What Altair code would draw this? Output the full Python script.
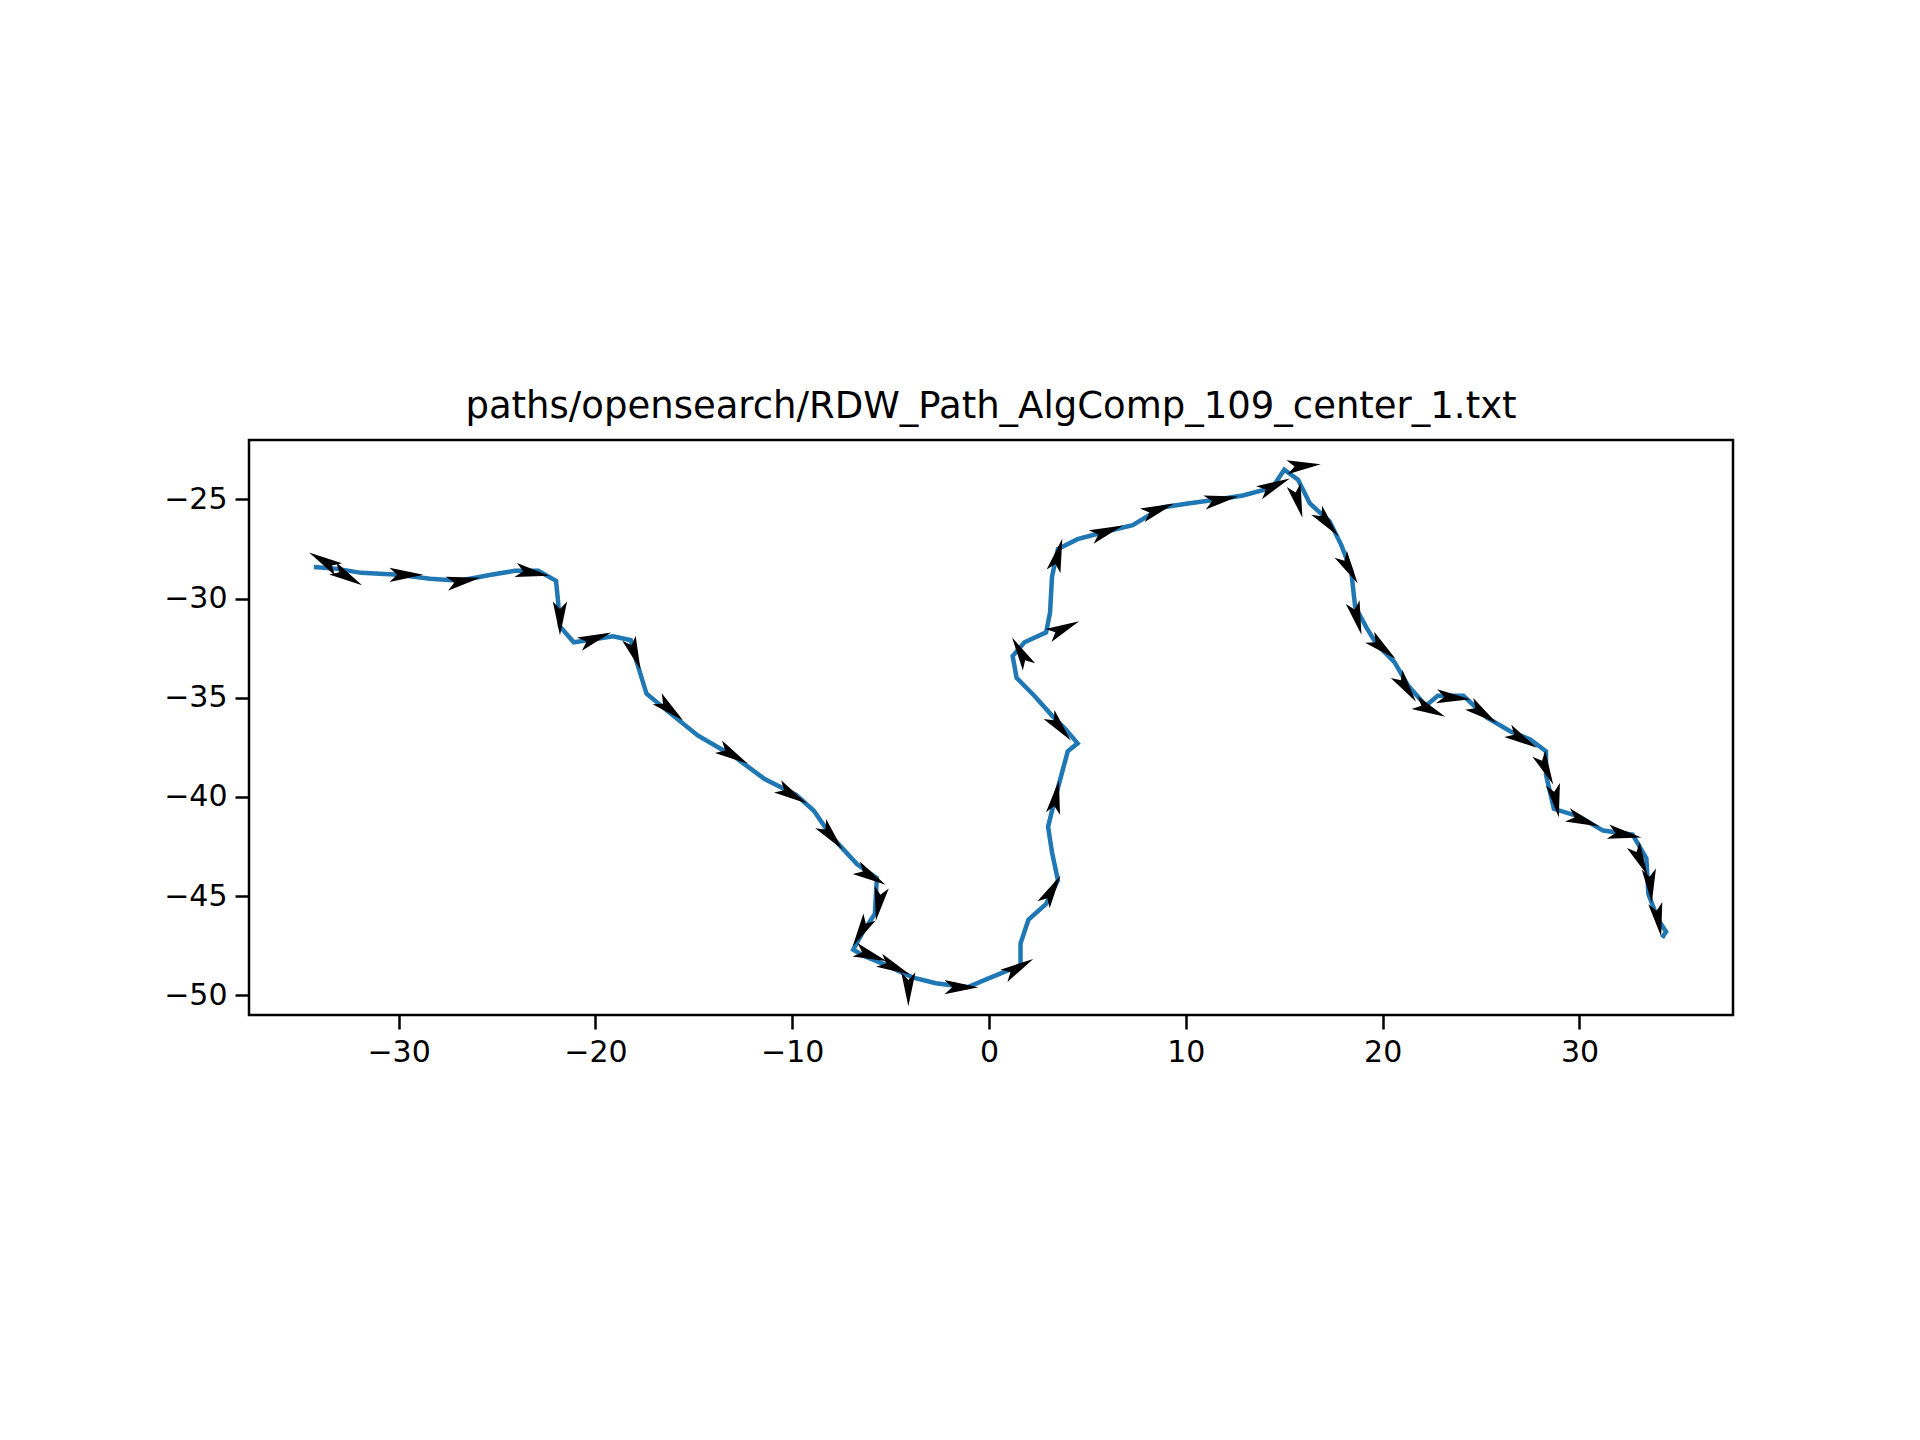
import altair as alt
import numpy as np
import pandas as pd

path_x = [-34.3, -33.1, -31.9, -30.0, -28.4, -26.9, -25.3, -24.1, -22.9, -22.0, -21.9, -21.8,
          -21.1, -20.4, -19.1, -18.2, -17.9, -17.4, -16.3, -14.8, -12.9, -11.4, -9.8, -8.9,
          -8.0, -6.7, -5.7, -5.8, -6.4, -6.9, -6.4, -5.2, -3.9, -2.7, -1.1, 0.1, 1.6, 1.6,
          2.0, 2.9, 3.5, 3.2, 3.0, 3.3, 3.7, 4.0, 4.5, 3.9, 3.2, 2.3, 1.4, 1.2, 1.8, 2.9,
          3.1, 3.2, 3.5, 4.5, 6.0, 7.3, 8.8, 10.1, 11.6, 12.9, 14.4, 15.0, 15.7, 16.3, 17.3,
          17.9, 18.4, 18.6, 19.2, 19.7, 20.6, 21.3, 22.2, 22.8, 24.1, 25.3, 26.5, 27.5, 28.3,
          28.3, 28.7, 30.0, 31.2, 32.7, 33.4, 33.5, 34.0, 34.4, 34.2]
path_y = [-28.4, -28.5, -28.7, -28.8, -29.0, -29.1, -28.8, -28.6, -28.6, -29.1, -30.1, -31.4,
          -32.2, -32.1, -31.9, -32.1, -33.2, -34.8, -35.7, -36.9, -38.0, -39.1, -39.9, -40.7,
          -42.0, -43.4, -44.1, -45.9, -46.8, -47.7, -48.0, -48.5, -49.1, -49.4, -49.6, -49.1,
          -48.5, -47.4, -46.2, -45.4, -44.2, -42.8, -41.5, -40.3, -38.8, -37.7, -37.3, -36.6,
          -35.9, -34.9, -34.0, -32.9, -32.2, -31.7, -30.7, -28.9, -27.5, -27.0, -26.6, -26.3,
          -25.4, -25.2, -25.0, -24.8, -24.4, -23.5, -24.0, -25.2, -26.1, -27.3, -28.6, -30.4,
          -31.5, -32.3, -33.2, -34.4, -35.4, -34.9, -34.9, -36.0, -36.7, -37.1, -37.7, -38.9,
          -40.6, -41.0, -41.7, -41.9, -43.1, -44.9, -46.2, -46.8, -47.1]

arrow_x = [-33.8, -32.6, -29.6, -26.7, -23.2, -21.8, -20.0, -18.0, -16.2, -13.0, -10.0, -8.0,
           -6.0, -5.6, -6.5, -6.0, -4.8, -4.1, -1.4, 1.5, 3.2, 3.4, 3.6, 1.6, 3.8, 3.5, 6.0,
           8.6, 11.8, 14.5, 16.0, 15.7, 17.2, 18.3, 18.7, 20.0, 21.2, 22.4, 23.6, 25.1, 27.1,
           28.3, 28.8, 30.2, 32.3, 33.1, 33.6, 34.0]
arrow_y = [-28.1, -28.9, -28.8, -29.1, -28.7, -31.0, -32.0, -32.8, -35.6, -37.9, -39.9, -42.0,
           -44.0, -45.4, -46.8, -48.0, -48.6, -49.7, -49.6, -48.6, -44.7, -40.0, -36.5, -32.7,
           -31.5, -27.8, -26.6, -25.5, -25.0, -24.3, -23.3, -25.1, -26.2, -28.5, -31.0, -32.5,
           -34.5, -35.6, -35.0, -35.8, -37.1, -38.6, -40.2, -41.2, -41.9, -43.2, -44.5, -46.2]
# heading, degrees clockwise from north
arrow_heading = [300, 120, 90, 80, 100, 180, 70, 160, 130, 120, 120, 140, 120, 190, 210, 110,
                 115, 180, 90, 60, 30, 10, 140, 330, 65, 15, 70, 70, 80, 65, 85, 165, 140,
                 150, 165, 130, 145, 115, 95, 125, 120, 155, 170, 110, 100, 155, 175, 170]

path = pd.DataFrame({"x": path_x, "y": path_y, "i": np.arange(len(path_x))})
arrows = pd.DataFrame({"x": arrow_x, "y": arrow_y, "a": arrow_heading})

xs = alt.Scale(domain=[-37.6, 37.8], nice=False, zero=False)
ys = alt.Scale(domain=[-51.0, -22.0], nice=False, zero=False)
common = dict(title=None, grid=False, domain=False, labelFontSize=30, tickSize=14,
              tickWidth=2.5, tickColor="black", labelColor="black", labelPadding=8,
              labelExpr="replace(datum.label, '-', '\u2212')")
xax = alt.Axis(values=[-30, -20, -10, 0, 10, 20, 30], **common)
yax = alt.Axis(values=[-25, -30, -35, -40, -45, -50], **common)

line = alt.Chart(path).mark_line(color="#1f77b4", strokeWidth=4.5).encode(
    x=alt.X("x:Q", scale=xs, axis=xax),
    y=alt.Y("y:Q", scale=ys, axis=yax),
    order="i:Q",
)

arrow_shape = "M0,-1 L0.42,1 L0,0.55 L-0.42,1 Z"
heads = alt.Chart(arrows).mark_point(
    shape=arrow_shape, filled=True, color="black", opacity=1, size=1150
).encode(
    x=alt.X("x:Q", scale=xs),
    y=alt.Y("y:Q", scale=ys),
    angle=alt.Angle("a:Q", scale=None),
)

chart = (
    (line + heads)
    .properties(
        width=1484, height=575,
        title=alt.Title("paths/opensearch/RDW_Path_AlgComp_109_center_1.txt",
                        fontSize=37, fontWeight="normal", color="black", offset=14),
        padding={"left": 155, "top": 380, "right": 170, "bottom": 380},
    )
    .configure(font="DejaVu Sans")
    .configure_view(stroke="black", strokeWidth=2.5)
)

chart.save("out.html", embed_options={"renderer": "svg", "actions": False})
